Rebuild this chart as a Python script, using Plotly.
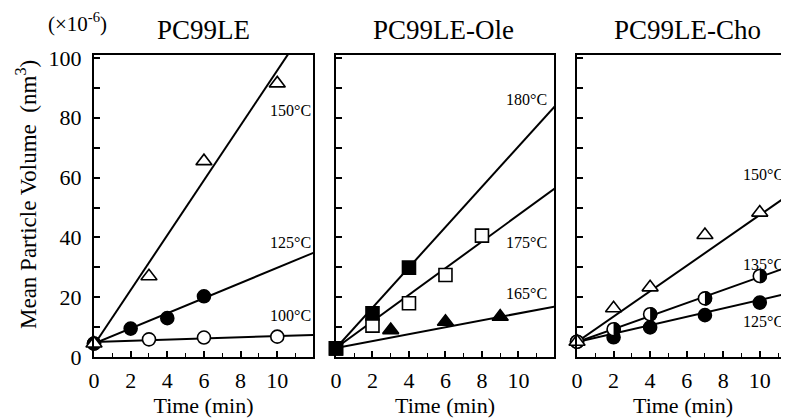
import plotly.graph_objects as go

# ---------------- data ----------------
# Panel 1: PC99LE
t1_150 = [0, 3, 6, 10]
v1_150 = [4.5, 27.0, 65.5, 91.5]
t1_125 = [0, 2, 4, 6]
v1_125 = [4.5, 9.5, 13.0, 20.3]
t1_100 = [0, 3, 6, 10]
v1_100 = [4.5, 5.9, 6.5, 6.8]
# fitted lines: value at t=0 and t=12
fit_t = [0, 12]
fit1_150 = [4.0, 114.2]
fit1_125 = [4.5, 34.9]
fit1_100 = [5.0, 7.4]

# Panel 2: PC99LE-Ole
t2_180 = [0, 2, 4]
v2_180 = [2.9, 14.6, 29.9]
t2_175 = [0, 2, 4, 6, 8]
v2_175 = [2.9, 10.5, 18.0, 27.4, 40.6]
t2_165 = [3, 6, 9]
v2_165 = [9.0, 11.8, 13.5]
fit2_180 = [3.0, 83.9]
fit2_175 = [3.0, 56.4]
fit2_165 = [3.0, 16.9]

# Panel 3: PC99LE-Cho
t3_150 = [0, 2, 4, 7, 10]
v3_150 = [5.1, 16.3, 23.3, 40.8, 48.3]
t3_135 = [0, 2, 4, 7, 10]
v3_135 = [5.1, 9.3, 14.3, 19.6, 27.1]
t3_125 = [0, 2, 4, 7, 10]
v3_125 = [5.1, 6.6, 9.9, 14.0, 18.2]
fit3_150 = [5.0, 56.0]
fit3_135 = [5.0, 31.1]
fit3_125 = [5.0, 21.9]

panel_titles = ["PC99LE", "PC99LE-Ole", "PC99LE-Cho"]
x_ticks = [0, 2, 4, 6, 8, 10]
y_ticks = [0, 20, 40, 60, 80, 100]

# ---------------- figure ----------------
FONT = "Liberation Serif, Times New Roman, serif"
BLACK = "black"
fig = go.Figure()

def line(x, y, ax):
    fig.add_trace(go.Scatter(x=x, y=y, mode="lines", line=dict(color=BLACK, width=2),
                             xaxis=ax[0], yaxis=ax[1], showlegend=False, hoverinfo="skip"))

def pts(x, y, ax, symbol, filled, size=13):
    fig.add_trace(go.Scatter(x=x, y=y, mode="markers", xaxis=ax[0], yaxis=ax[1],
                             showlegend=False, cliponaxis=False,
                             marker=dict(symbol=symbol, size=size,
                                         color=BLACK if filled else "white",
                                         line=dict(color=BLACK, width=1.6))))

A1, A2, A3 = ("x", "y"), ("x2", "y2"), ("x3", "y3")

# panel 1
line(fit_t, fit1_150, A1)
line(fit_t, fit1_125, A1)
line(fit_t, fit1_100, A1)
pts(t1_100, v1_100, A1, "circle", False)
pts(t1_125, v1_125, A1, "circle", True)
pts(t1_150, v1_150, A1, "triangle-up", False, 14)

# panel 2
line(fit_t, fit2_180, A2)
line(fit_t, fit2_175, A2)
line(fit_t, fit2_165, A2)
pts(t2_165, v2_165, A2, "triangle-up", True, 14)
pts(t2_175, v2_175, A2, "square", False, 13)
pts(t2_180, v2_180, A2, "square", True, 13)

# panel 3
line(fit_t, fit3_150, A3)
line(fit_t, fit3_135, A3)
line(fit_t, fit3_125, A3)
pts(t3_125, v3_125, A3, "circle", True)
pts(t3_135, v3_135, A3, "circle", False)
pts(t3_150, v3_150, A3, "triangle-up", False, 14)

# right-half black of the 135 °C circles: pixel-sized path anchored at each data point
R = 7.3
K = 0.5523 * R
half_path = (f"M0,{-R} C{K},{-R} {R},{-K} {R},0 C{R},{K} {K},{R} 0,{R} Z")
shapes = []
for t, v in zip(t3_135, v3_135):
    if t == 0:
        continue  # hidden under the triangle at t = 0
    shapes.append(dict(type="path", xref="x3", yref="y3", xsizemode="pixel", ysizemode="pixel",
                       xanchor=t, yanchor=v, path=half_path, fillcolor=BLACK,
                       line=dict(width=0), layer="above"))

# axes
domains = [[0.0, 0.3151], [0.3482, 0.6619], [0.695, 1.0]]
xranges = [[0, 11.95], [0, 11.95], [0, 11.6]]
for i in range(3):
    sfx = "" if i == 0 else str(i + 1)
    fig.layout["xaxis" + sfx] = dict(
        domain=domains[i], range=xranges[i], anchor="y" + sfx,
        showline=True, linecolor=BLACK, linewidth=2, mirror=True,
        ticks="inside", ticklen=6, tickwidth=1.5, tickcolor=BLACK,
        tickvals=x_ticks, ticktext=[str(v) for v in x_ticks],
        minor=dict(dtick=1, tick0=0, ticks="inside", ticklen=4, tickwidth=1.2, tickcolor=BLACK),
        showgrid=False, zeroline=False, ticklabelstandoff=3,
        tickfont=dict(family=FONT, size=22, color=BLACK),
        title=dict(text="Time (min)", font=dict(family=FONT, size=22, color=BLACK), standoff=4),
    )
    fig.layout["yaxis" + sfx] = dict(
        domain=[0, 1], range=[0, 101], anchor="x" + sfx,
        showline=True, linecolor=BLACK, linewidth=2, mirror=(i < 2),
        ticks="inside", ticklen=6, tickwidth=1.5, tickcolor=BLACK,
        tickvals=y_ticks, ticktext=[str(v) for v in y_ticks],
        showticklabels=(i == 0),
        minor=dict(dtick=10, tick0=0, ticks="inside", ticklen=6, tickwidth=1.5, tickcolor=BLACK),
        showgrid=False, zeroline=False, ticklabelstandoff=6,
        tickfont=dict(family=FONT, size=22, color=BLACK),
    )

# page geometry (the page body adds an 8 px offset)
W, H = 781, 411
L, T, B = 86, 47, 62
PW, PH = W - L, H - T - B
OFF = 8

def px_x(X):  # page px -> paper x
    return (X - OFF - L) / PW

def px_y(Y):  # page px -> paper y
    return (H - B - (Y - OFF)) / PH

ann = []
title_px = [203, 443, 687]
for tx, tt in zip(title_px, panel_titles):
    ann.append(dict(text=tt, x=px_x(tx), y=px_y(30), xref="paper", yref="paper",
                    xanchor="center", yanchor="middle", showarrow=False,
                    font=dict(family=FONT, size=27, color=BLACK)))
# temperature labels
temp_labels = [
    ("x", "y", 10.7, 82.3, "150°C"), ("x", "y", 10.7, 38.2, "125°C"), ("x", "y", 10.7, 14.0, "100°C"),
    ("x2", "y2", 10.45, 86.0, "180°C"), ("x2", "y2", 10.45, 38.2, "175°C"), ("x2", "y2", 10.45, 21.3, "165°C"),
    ("x3", "y3", 10.2, 60.9, "150°C"), ("x3", "y3", 10.2, 30.8, "135°C"), ("x3", "y3", 10.2, 11.8, "125°C"),
]
for xr, yr, x, y, t in temp_labels:
    ann.append(dict(text=t, x=x, y=y, xref=xr, yref=yr, showarrow=False,
                    xanchor="center", yanchor="middle",
                    font=dict(family=FONT, size=16, color=BLACK)))
ann.append(dict(text="Mean Particle Volume  (nm<sup>3</sup>)", textangle=-90,
                x=px_x(26), y=px_y(195), xref="paper", yref="paper", showarrow=False,
                xanchor="center", yanchor="middle",
                font=dict(family=FONT, size=23, color=BLACK)))
ann.append(dict(text="(\u00D710<sup>-6</sup>)", x=px_x(77), y=px_y(23),
                xref="paper", yref="paper", showarrow=False,
                xanchor="center", yanchor="middle",
                font=dict(family=FONT, size=21, color=BLACK)))

fig.update_layout(
    width=W, height=H,
    margin=dict(l=L, r=0, t=T, b=B, autoexpand=False),
    paper_bgcolor="white", plot_bgcolor="white",
    showlegend=False, annotations=ann, shapes=shapes,
)
fig.write_html("out.html")
